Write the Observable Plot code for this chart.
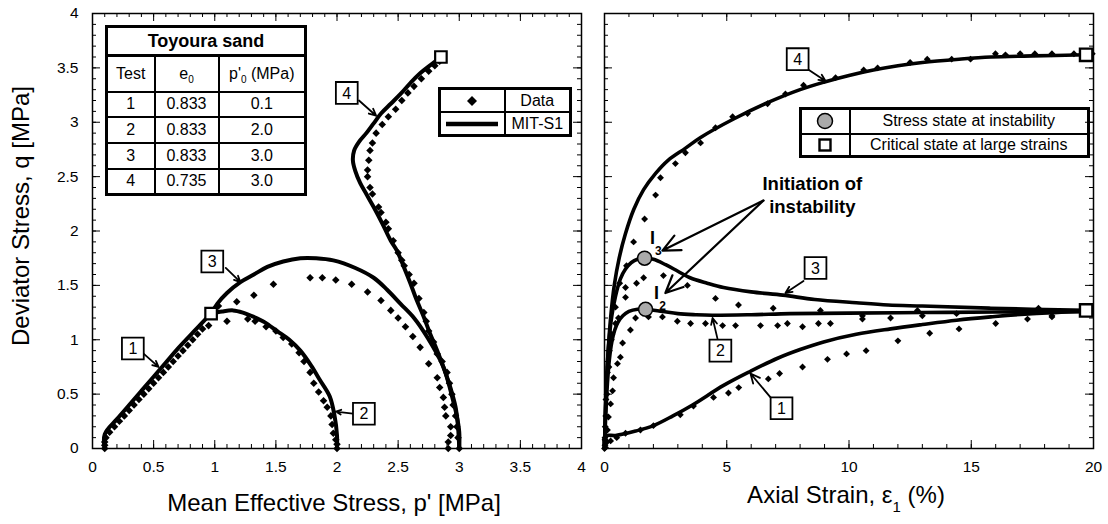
<!DOCTYPE html>
<html><head><meta charset="utf-8">
<script src="https://cdn.jsdelivr.net/npm/d3@7"></script>
<script src="https://cdn.jsdelivr.net/npm/@observablehq/plot@0.6"></script>
<style>
body{margin:0;background:#fff;font-family:"Liberation Sans",Arial,sans-serif;color:#000;overflow:hidden}
#wrap{position:relative;width:1108px;height:524px}
.panel{position:absolute;top:0}
.abs{position:absolute;white-space:nowrap}
table.box{position:absolute;border-collapse:collapse;table-layout:fixed;font-size:16px;text-align:center}
table.box td{border:2px solid #000;padding:0;line-height:1;vertical-align:middle}
table.box{border:3px solid #000}
sub{font-size:10px;vertical-align:-4px;line-height:0}
</style></head>
<body><div id="wrap"></div>
<script>
// ---------- tick values ----------
const pTicks = [0, 0.5, 1, 1.5, 2, 2.5, 3, 3.5, 4];
const qTicks = [0, 0.5, 1, 1.5, 2, 2.5, 3, 3.5, 4];
const strainTicks = [0, 5, 10, 15, 20];
const pMinor = d3.range(0, 4.0001, 0.1);
const qMinor = d3.range(0, 4.0001, 0.1);
const strainMinor = d3.range(0, 20.0001, 1);

// ---------- left panel: q vs p' ----------
const modelPQ1 = [[0.1,0],[0.1,0.13],[0.2,0.27],[0.3,0.4],[0.4,0.53],[0.5,0.66],[0.6,0.79],[0.7,0.92],[0.8,1.04],[0.9,1.16],[0.97,1.24]];
const modelPQ2 = [[2.0,0],[2.0,0.12],[1.98,0.3],[1.94,0.48],[1.86,0.63],[1.79,0.76],[1.70,0.9],[1.61,1.0],[1.51,1.08],[1.41,1.16],[1.32,1.21],[1.23,1.25],[1.15,1.27],[1.06,1.26],[0.97,1.24]];
const modelPQ3 = [[3.0,0],[3.0,0.15],[2.98,0.3],[2.95,0.44],[2.87,0.75],[2.74,1.02],[2.63,1.2],[2.52,1.33],[2.41,1.46],[2.30,1.57],[2.15,1.66],[1.97,1.73],[1.83,1.75],[1.70,1.75],[1.56,1.72],[1.43,1.67],[1.32,1.6],[1.21,1.53],[1.10,1.43],[1.02,1.33],[0.97,1.24]];
const modelPQ4 = [[3.0,0],[2.99,0.2],[2.97,0.38],[2.93,0.55],[2.88,0.72],[2.82,0.9],[2.76,1.06],[2.71,1.21],[2.65,1.37],[2.60,1.52],[2.55,1.66],[2.49,1.82],[2.44,1.91],[2.37,2.07],[2.30,2.22],[2.24,2.34],[2.19,2.44],[2.15,2.55],[2.13,2.65],[2.14,2.74],[2.18,2.82],[2.24,2.90],[2.30,2.99],[2.36,3.08],[2.44,3.17],[2.52,3.26],[2.60,3.36],[2.68,3.45],[2.77,3.53],[2.85,3.6]];

const dataPQ1 = [[0.1,0],[0.1,0.03],[0.1,0.06],[0.11,0.1],[0.14,0.15],[0.18,0.2],[0.22,0.25],[0.26,0.3],[0.3,0.35],[0.34,0.4],[0.38,0.45],[0.42,0.5],[0.46,0.55],[0.5,0.6],[0.54,0.65],[0.58,0.7],[0.62,0.75],[0.66,0.8],[0.7,0.85],[0.74,0.9],[0.78,0.95],[0.82,1.0],[0.86,1.05],[0.9,1.1],[0.95,1.13]];
const dataPQ2 = [[2.0,0],[2.0,0.04],[1.99,0.08],[1.97,0.14],[1.96,0.22],[1.95,0.3],[1.92,0.38],[1.89,0.44],[1.85,0.52],[1.81,0.6],[1.78,0.7],[1.73,0.8],[1.69,0.88],[1.63,0.96],[1.56,1.02],[1.50,1.08],[1.42,1.12],[1.33,1.17],[1.27,1.19],[1.10,1.17]];
const dataPQ3 = [[2.91,0],[2.91,0.06],[2.93,0.12],[2.93,0.2],[2.89,0.3],[2.88,0.38],[2.87,0.47],[2.84,0.56],[2.82,0.65],[2.75,0.78],[2.68,0.93],[2.62,1.03],[2.56,1.12],[2.50,1.2],[2.44,1.27],[2.36,1.36],[2.25,1.44],[2.12,1.51],[1.99,1.55],[1.88,1.57],[1.78,1.57],[1.48,1.51],[1.32,1.41],[1.18,1.35],[1.03,1.31]];
const dataPQ4 = [[3.0,0],[2.99,0.1],[2.98,0.2],[2.97,0.3],[2.95,0.4],[2.94,0.5],[2.92,0.6],[2.90,0.7],[2.86,0.8],[2.82,0.87],[2.79,0.98],[2.75,1.08],[2.73,1.17],[2.71,1.25],[2.67,1.38],[2.63,1.52],[2.59,1.6],[2.55,1.68],[2.53,1.73],[2.50,1.8],[2.46,1.91],[2.42,2.02],[2.40,2.08],[2.36,2.17],[2.34,2.22],[2.29,2.34],[2.27,2.4],[2.25,2.5],[2.25,2.56],[2.26,2.65],[2.27,2.74],[2.29,2.81],[2.32,2.9],[2.37,2.98],[2.42,3.05],[2.48,3.12],[2.53,3.2],[2.58,3.27],[2.63,3.33],[2.69,3.4],[2.75,3.47],[2.80,3.52],[2.84,3.56]];

const criticalPQ = [[0.97,1.24],[2.85,3.6]];
const labelsPQ = [["1",0.33,0.92],["3",0.98,1.72],["2",2.22,0.32],["4",2.08,3.27]];
const arrowsPQ = [[0.42,0.87,0.54,0.75],[1.09,1.66,1.21,1.53],[2.13,0.32,1.99,0.34],[2.18,3.2,2.32,3.06]];

// ---------- right panel: q vs axial strain ----------
const modelEQ1 = [[0,0],[0,0.1],[0.1,0.12],[0.45,0.12],[1.27,0.16],[2.0,0.21],[2.8,0.3],[3.6,0.4],[4.87,0.58],[5.97,0.71],[7.08,0.83],[8.0,0.91],[8.96,0.98],[10.3,1.05],[11.7,1.10],[13.0,1.14],[14.4,1.18],[15.8,1.21],[17.5,1.24],[19.7,1.26]];
const modelEQ2 = [[0,0],[0.05,0.3],[0.12,0.6],[0.2,0.82],[0.3,0.98],[0.42,1.09],[0.55,1.16],[0.75,1.22],[1.0,1.26],[1.35,1.28],[1.68,1.28],[2.37,1.26],[3.0,1.24],[3.72,1.23],[4.4,1.225],[6.0,1.23],[7.6,1.24],[10.0,1.245],[13.0,1.25],[16.0,1.255],[19.7,1.26]];
const modelEQ3 = [[0,0],[0.04,0.35],[0.1,0.7],[0.18,0.98],[0.3,1.22],[0.45,1.4],[0.65,1.56],[0.86,1.65],[1.1,1.71],[1.35,1.74],[1.64,1.75],[2.0,1.74],[2.5,1.69],[3.0,1.63],[3.5,1.57],[4.2,1.52],[4.87,1.48],[6.0,1.44],[7.3,1.41],[8.6,1.37],[10.3,1.34],[11.6,1.32],[13.0,1.31],[15.8,1.29],[19.7,1.27]];
const modelEQ4 = [[0,0],[0.03,0.3],[0.08,0.6],[0.15,0.9],[0.25,1.2],[0.4,1.5],[0.6,1.75],[0.85,1.97],[1.2,2.2],[1.6,2.38],[2.09,2.53],[2.6,2.65],[3.3,2.76],[3.93,2.86],[5.28,3.03],[6.67,3.18],[8.0,3.3],[9.0,3.37],[10.0,3.43],[11.0,3.48],[12.0,3.52],[13.0,3.55],[14.5,3.58],[15.8,3.6],[17.5,3.61],[19.7,3.62]];

const dataEQ1 = [[0,0],[0.02,0.03],[0.04,0.01],[0.1,0.06],[0.25,0.07],[0.5,0.1],[0.86,0.14],[1.47,0.17],[2.0,0.21],[3.1,0.31],[3.64,0.39],[4.46,0.47],[5.07,0.51],[5.49,0.56],[6.7,0.64],[7.16,0.69],[8.1,0.75],[9.12,0.82],[9.9,0.87],[10.7,0.9],[12.0,0.99],[13.3,1.06],[14.5,1.1],[16.0,1.15],[17.3,1.19],[18.3,1.21]];
const dataEQ2 = [[0.02,0.08],[0.12,0.17],[0.16,0.29],[0.25,0.41],[0.33,0.53],[0.37,0.65],[0.53,0.78],[0.65,0.84],[0.74,0.97],[1.06,1.09],[1.27,1.2],[1.8,1.21],[2.37,1.21],[2.98,1.17],[3.52,1.15],[4.13,1.15],[4.83,1.13],[5.36,1.13],[6.38,1.13],[7.08,1.13],[7.48,1.15],[8.1,1.12],[8.75,1.15],[9.24,1.15],[10.55,1.19],[10.55,1.22],[11.7,1.2],[13.0,1.22]];
const dataEQ3 = [[0.03,0.2],[0.06,0.45],[0.12,0.7],[0.2,0.9],[0.3,1.05],[0.45,1.15],[0.57,1.2],[0.86,1.39],[0.86,1.48],[1.31,1.52],[1.6,1.57],[2.41,1.59],[3.39,1.5],[4.54,1.38],[5.48,1.32],[6.9,1.29],[8.83,1.27],[12.8,1.27],[14.4,1.24],[17.75,1.29],[18.3,1.22]];
const dataEQ4 = [[0.02,0.1],[0.05,0.3],[0.1,0.5],[0.18,0.75],[0.28,1.0],[0.45,1.3],[0.62,1.52],[0.9,1.68],[1.19,1.9],[1.64,2.11],[2.09,2.33],[2.29,2.49],[2.9,2.62],[3.31,2.72],[3.93,2.81],[4.54,2.95],[5.24,3.05],[5.85,3.08],[6.67,3.17],[7.4,3.26],[8.14,3.34],[9.45,3.41],[10.6,3.48],[11.17,3.5],[12.5,3.55],[13.2,3.58],[14.2,3.58],[14.97,3.58],[15.99,3.63],[16.4,3.62],[17.0,3.63],[17.6,3.63],[18.3,3.63],[19.2,3.63],[19.95,3.63]];

const instabilityEQ = [[1.64,1.75],[1.68,1.28]];
const criticalEQ = [[19.7,1.27],[19.7,3.62]];
const labelsEQ = [["4",7.9,3.58],["3",8.63,1.66],["2",4.74,0.9],["1",7.24,0.37]];
const arrowsEQ = [[8.3,3.49,9.04,3.38],[8.14,1.54,7.4,1.43],[4.62,1.01,4.42,1.2],[6.79,0.47,5.97,0.69]];
const instabNoteEQ = [["Initiation of\ninstability",8.5,2.34]];
const instabArrowsEQ = [[6.5,2.28,2.37,1.82],[6.5,2.28,2.49,1.43]];
const instabLabelsEQ = [["I","3",1.96,1.93],["I","2",2.13,1.43]];

// ---------- tables ----------
const tableRows = [["1","0.833","0.1"],["2","0.833","2.0"],["3","0.833","3.0"],["4","0.735","3.0"]];

// ---------- helpers ----------
const rows = (pairs, test) => pairs.map(([x, y]) => ({x, y, test}));
const font = "Liberation Sans, Arial, sans-serif";

function frameTicks(xMaj, xMin, yMaj, yMin, iw, ih) {
  const out = [];
  for (const [vals, L] of [[xMaj, 8], [xMin, 4]]) {
    out.push(Plot.tickX(vals, {x: d => d, insetTop: ih - L, stroke: "#000", strokeWidth: 1}));
    out.push(Plot.tickX(vals, {x: d => d, insetBottom: ih - L, stroke: "#000", strokeWidth: 1}));
  }
  for (const [vals, L] of [[yMaj, 8], [yMin, 4]]) {
    out.push(Plot.tickY(vals, {y: d => d, insetRight: iw - L, stroke: "#000", strokeWidth: 1}));
    out.push(Plot.tickY(vals, {y: d => d, insetLeft: iw - L, stroke: "#000", strokeWidth: 1}));
  }
  return out;
}

function annot(labels, arrows) {
  const lab = labels.map(([t, x, y]) => ({t, x, y}));
  const arr = arrows.map(([x1, y1, x2, y2]) => ({x1, y1, x2, y2}));
  return [
    Plot.arrow(arr, {x1: "x1", y1: "y1", x2: "x2", y2: "y2", stroke: "#000", strokeWidth: 1.8, headLength: 11, headAngle: 50}),
    Plot.dot(lab, {x: "x", y: "y", symbol: "square", r: 12.3, fill: "#fff", stroke: "#000", strokeWidth: 1.8}),
    Plot.text(lab, {x: "x", y: "y", text: "t", fontSize: 16, dy: 0.5})
  ];
}

const W = 1108, H = 524, MT = 13, MB = 76;
const IH = H - MT - MB;

// ---------- left plot ----------
const leftModel = [...rows(modelPQ1,1), ...rows(modelPQ2,2), ...rows(modelPQ3,3), ...rows(modelPQ4,4)];
const leftData = [...rows(dataPQ1,1), ...rows(dataPQ2,2), ...rows(dataPQ3,3), ...rows(dataPQ4,4)];
const left = Plot.plot({
  width: 590, height: H, marginLeft: 92, marginRight: 9, marginTop: MT, marginBottom: MB,
  x: {domain: [0, 4], axis: null},
  y: {domain: [0, 4], axis: null},
  style: {fontFamily: font, background: "transparent", overflow: "visible"},
  marks: [
    ...frameTicks(pTicks, pMinor, qTicks, qMinor, 489, IH),
    Plot.frame({stroke: "#000", strokeWidth: 1.5}),
    Plot.text(pTicks, {x: d => d, frameAnchor: "bottom", dy: 23, text: d => String(d), fontSize: 15.5}),
    Plot.text(qTicks, {y: d => d, frameAnchor: "left", dx: -14, textAnchor: "end", text: d => String(d), fontSize: 15.5}),
    Plot.dot(leftData, {x: "x", y: "y", symbol: "diamond2", r: 3.4, fill: "#000"}),
    Plot.line(leftModel, {x: "x", y: "y", z: "test", stroke: "#000", strokeWidth: 4, curve: "catmull-rom", strokeLinejoin: "round"}),
    ...annot(labelsPQ, arrowsPQ),
    Plot.dot(criticalPQ, {x: d => d[0], y: d => d[1], symbol: "square", r: 6.5, fill: "#fff", stroke: "#000", strokeWidth: 2.2})
  ]
});

// ---------- right plot ----------
const rightModel = [...rows(modelEQ1,1), ...rows(modelEQ2,2), ...rows(modelEQ3,3), ...rows(modelEQ4,4)];
const rightData = [...rows(dataEQ1,1), ...rows(dataEQ2,2), ...rows(dataEQ3,3), ...rows(dataEQ4,4)];
const right = Plot.plot({
  width: 518, height: H, marginLeft: 14, marginRight: 15, marginTop: MT, marginBottom: MB,
  x: {domain: [0, 20], axis: null},
  y: {domain: [0, 4], axis: null},
  style: {fontFamily: font, background: "transparent", overflow: "visible"},
  marks: [
    ...frameTicks(strainTicks, strainMinor, qTicks, qMinor, 489, IH),
    Plot.frame({stroke: "#000", strokeWidth: 1.5}),
    Plot.text(strainTicks, {x: d => d, frameAnchor: "bottom", dy: 23, text: d => String(d), fontSize: 15.5}),
    Plot.dot(rightData, {x: "x", y: "y", symbol: "diamond2", r: 3.1, fill: "#000"}),
    Plot.line(rightModel, {x: "x", y: "y", z: "test", stroke: "#000", strokeWidth: 3.6, curve: "catmull-rom", strokeLinejoin: "round"}),
    ...annot(labelsEQ, arrowsEQ),
    Plot.arrow(instabArrowsEQ, {x1: d => d[0], y1: d => d[1], x2: d => d[2], y2: d => d[3], stroke: "#000", strokeWidth: 2.2, headLength: 13, headAngle: 50}),
    Plot.text(instabNoteEQ, {x: d => d[1], y: d => d[2], text: d => d[0], fontSize: 18.5, fontWeight: "bold", lineHeight: 1.25}),
    Plot.text(instabLabelsEQ, {x: d => d[2], y: d => d[3], text: d => d[0], fontSize: 18, fontWeight: "bold"}),
    Plot.text(instabLabelsEQ, {x: d => d[2], y: d => d[3], text: d => d[1], fontSize: 12, fontWeight: "bold", dx: 6, dy: 13}),
    Plot.dot(instabilityEQ, {x: d => d[0], y: d => d[1], r: 7, fill: "#aaa", stroke: "#000", strokeWidth: 1.5}),
    Plot.dot(criticalEQ, {x: d => d[0], y: d => d[1], symbol: "square", r: 7, fill: "#fff", stroke: "#000", strokeWidth: 2.4})
  ]
});

// ---------- assemble ----------
const wrap = document.getElementById("wrap");
const pl = document.createElement("div"); pl.className = "panel"; pl.style.left = "0px"; pl.appendChild(left); wrap.appendChild(pl);
const pr = document.createElement("div"); pr.className = "panel"; pr.style.left = "590px"; pr.appendChild(right); wrap.appendChild(pr);

function addHTML(html) { const d = document.createElement("div"); d.innerHTML = html; while (d.firstChild) wrap.appendChild(d.firstChild); }

// axis titles
addHTML(`<div class="abs" style="left:21px;top:216px;font-size:24px;transform:translate(-50%,-50%) rotate(-90deg)">Deviator Stress, q [MPa]</div>`);
addHTML(`<div class="abs" style="left:334px;top:503px;font-size:24px;transform:translate(-50%,-50%)">Mean Effective Stress, p' [MPa]</div>`);
addHTML(`<div class="abs" style="left:846px;top:495px;font-size:24px;transform:translate(-50%,-50%)">Axial Strain, &epsilon;<sub style="font-size:15px;vertical-align:-9px">1</sub> (%)</div>`);

// Toyoura sand table
let tbl = `<table class="box" style="left:105px;top:25px;width:199px;height:168px">
<colgroup><col style="width:48px"><col style="width:64px"><col style="width:87px"></colgroup>
<tr style="height:29px"><td colspan="3" style="font-weight:bold;font-size:18px;border-bottom:3px solid #000">Toyoura sand</td></tr>
<tr style="height:36px"><td>Test</td><td>e<sub>0</sub></td><td>p'<sub>0</sub> (MPa)</td></tr>`;
for (const r of tableRows) tbl += `<tr style="height:25.75px"><td>${r[0]}</td><td>${r[1]}</td><td>${r[2]}</td></tr>`;
tbl += `</table>`;
addHTML(tbl);

// Data / MIT-S1 legend
addHTML(`<table class="box" style="left:438px;top:87px;width:131px;height:50px">
<colgroup><col style="width:65px"><col style="width:66px"></colgroup>
<tr><td><svg width="12" height="12" style="display:block;margin:auto"><polygon points="6,1 11,6 6,11 1,6" fill="#000"/></svg></td><td>Data</td></tr>
<tr><td><svg width="52" height="8" style="display:block;margin:auto"><line x1="0" y1="4" x2="52" y2="4" stroke="#000" stroke-width="4.5"/></svg></td><td>MIT-S1</td></tr>
</table>`);

// instability / critical legend
addHTML(`<table class="box" style="left:799px;top:107px;width:288px;height:51px">
<colgroup><col style="width:49px"><col style="width:239px"></colgroup>
<tr><td><svg width="18" height="18" style="display:block;margin:auto"><circle cx="9" cy="9" r="7.5" fill="#aaa" stroke="#000" stroke-width="1.5"/></svg></td><td>Stress state at instability</td></tr>
<tr><td><svg width="14" height="14" style="display:block;margin:auto"><rect x="1.5" y="1.5" width="11" height="11" fill="#fff" stroke="#000" stroke-width="2.4"/></svg></td><td>Critical state at large strains</td></tr>
</table>`);
</script>
</body></html>
